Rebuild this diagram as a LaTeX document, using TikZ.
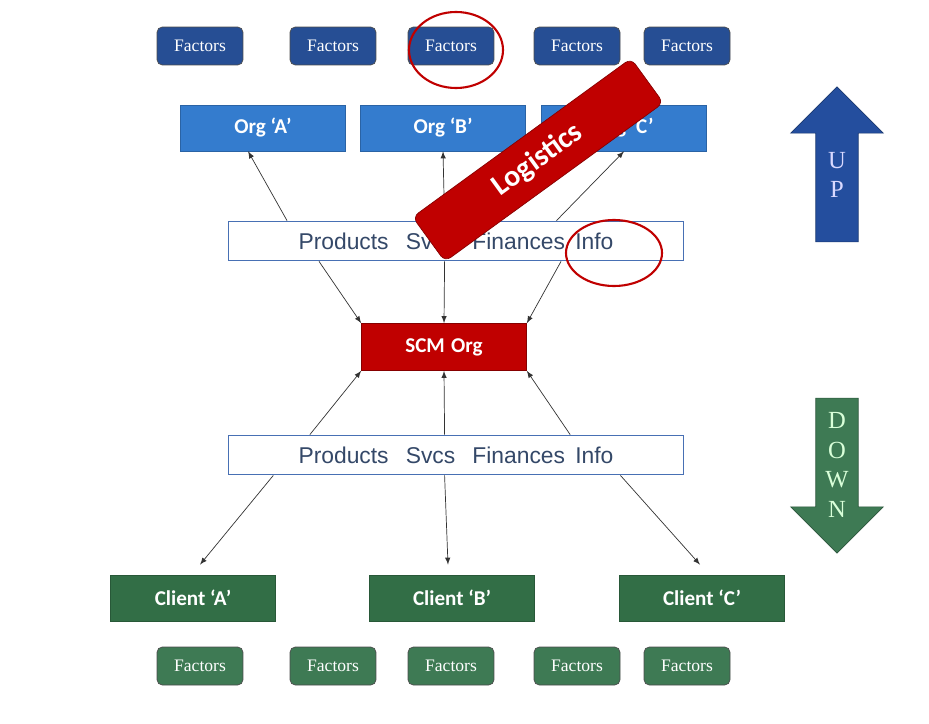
\documentclass[tikz,border=0pt]{standalone}
\usepackage{fontspec}
\setmainfont{Liberation Serif}
\newfontfamily\calibri{Carlito}
\newfontfamily\arial{Liberation Sans}
\usetikzlibrary{calc,shapes.arrows}
\definecolor{FacBlue}{RGB}{38,78,148}
\definecolor{OrgBlue}{RGB}{52,124,206}
\definecolor{BoxLine}{RGB}{72,112,180}
\definecolor{BoxText}{RGB}{52,72,104}
\definecolor{ScmRed}{RGB}{192,0,0}
\definecolor{CliGreen}{RGB}{50,110,70}
\definecolor{FacGreen}{RGB}{62,122,84}
\definecolor{UpBlue}{RGB}{36,78,158}

\tikzset{
  fac/.style={draw=black!70, rounded corners=3pt, minimum width=1.72cm, minimum height=0.76cm, text=white, font=\fontsize{10}{12}\selectfont},
  org/.style={fill=OrgBlue, draw=OrgBlue!80!black, minimum width=3.3cm, minimum height=0.92cm, text=white, font=\calibri\bfseries\fontsize{12}{14}\selectfont},
  cli/.style={fill=CliGreen, draw=CliGreen!80!black, minimum width=3.3cm, minimum height=0.92cm, text=white, font=\calibri\bfseries\fontsize{12}{14}\selectfont},
  flow/.style={draw=BoxLine, line width=1pt, fill=white, minimum width=9.1cm, minimum height=0.78cm, text=BoxText, font=\arial\fontsize{13}{15}\selectfont},
  link/.style={->, >=latex, black!80, line width=0.4pt},
  ring/.style={draw=ScmRed, line width=1.2pt},
  dir/.style={single arrow, single arrow head extend=0.5cm, single arrow tip angle=90, minimum width=1cm, minimum height=3.1cm, text width=0.6cm, align=center, font=\fontsize{14}{17}\selectfont}
}

\begin{document}
\begin{tikzpicture}[x=0.02cm, y=-0.02cm]
  \useasboundingbox (0,0) rectangle (929,723);

  % factors of the organisations
  \foreach \x [count=\i] in {200,333,451,577,687}
    \node[fac, fill=FacBlue] (ft\i) at (\x,46) {Factors};

  \node[org] (orgA) at (263,128) {Org ‘A’};
  \node[org] (orgB) at (443,128) {Org ‘B’};
  \node[org] (orgC) at (624,128) {Org ‘C’};

  \node[flow] (up) at (456,241) {Products\hspace{0.75em}Svcs\hspace{0.75em}Finances\hspace{0.45em}Info\hspace{1.6cm}};
  \node[fill=ScmRed, draw=ScmRed!70!black, minimum width=3.3cm, minimum height=0.94cm, text=white, font=\calibri\bfseries\fontsize{12}{14}\selectfont] (scm) at (444,347) {SCM\hspace{0.3em}Org};
  \node[flow] (down) at (456,455) {Products\hspace{0.75em}Svcs\hspace{0.75em}Finances\hspace{0.45em}Info\hspace{1.6cm}};

  \node[cli] (cliA) at (193,598) {Client ‘A’};
  \node[cli] (cliB) at (452,598) {Client ‘B’};
  \node[cli] (cliC) at (702,598) {Client ‘C’};

  % factors of the clients
  \foreach \x [count=\i] in {200,333,451,577,687}
    \node[fac, fill=FacGreen] (fb\i) at (\x,666) {Factors};

  % upper flows
  \draw[link] ($(up.north west)!0.13!(up.north east)$) -- ($(orgA.south west)!0.41!(orgA.south east)$);
  \draw[link] ($(up.north west)!0.475!(up.north east)$) -- (orgB.south);
  \draw[link] ($(up.north west)!0.72!(up.north east)$) -- (orgC.south);
  \draw[link] ($(up.south west)!0.2!(up.south east)$) -- (scm.north west);
  \draw[link] ($(up.south west)!0.475!(up.south east)$) -- (scm.north);
  \draw[link] ($(up.south west)!0.73!(up.south east)$) -- (scm.north east);

  % lower flows
  \draw[link] ($(down.north west)!0.18!(down.north east)$) -- (scm.south west);
  \draw[link] ($(down.north west)!0.475!(down.north east)$) -- (scm.south);
  \draw[link] ($(down.north west)!0.75!(down.north east)$) -- (scm.south east);
  \draw[link] ($(down.south west)!0.1!(down.south east)$) -- ($(cliA.north)+(7,-10)$);
  \draw[link] ($(down.south west)!0.475!(down.south east)$) -- ($(cliB.north)+(-4,-10)$);
  \draw[link] ($(down.south west)!0.86!(down.south east)$) -- ($(cliC.north)+(-2,-10)$);

  % banner and rings
  \node[fill=ScmRed, draw=ScmRed!70!black, rounded corners=4pt, rotate=36, minimum width=5.4cm, minimum height=1.1cm, text=white, font=\calibri\bfseries\fontsize{17}{20}\selectfont] (logi) at (538,160) {Logistics};
  \draw[ring] (456,50) ellipse [x radius=47, y radius=38];
  \draw[ring] (614,253) ellipse [x radius=48, y radius=33];

  \node[dir, fill=UpBlue, draw=UpBlue!70!black, shape border rotate=90, text=white!85!blue] (upArr) at (837,175) {U\\P};
  \node[dir, fill=FacGreen, draw=FacGreen!70!black, shape border rotate=270, text=white!85!green] (dnArr) at (837,465) {D\\O\\W\\N};
\end{tikzpicture}
\end{document}
